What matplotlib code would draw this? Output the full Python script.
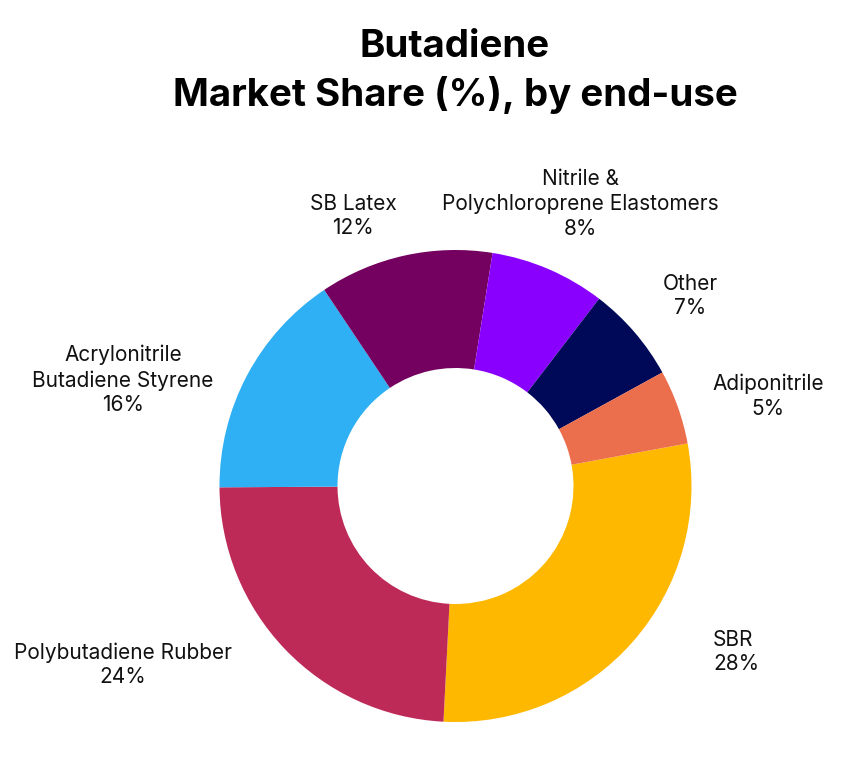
import matplotlib
matplotlib.use("Agg")
import matplotlib.pyplot as plt

categories = ["SBR", "Polybutadiene Rubber", "Acrylonitrile\nButadiene Styrene",
              "SB Latex", "Nitrile &\nPolychloroprene Elastomers", "Other", "Adiponitrile"]
# slice sizes
shares = [28.7, 24.1, 15.7, 11.9, 7.9, 6.6, 5.1]
# percentages as printed on the chart
share_labels = ["28%", "24%", "16%", "12%", "8%", "7%", "5%"]
colors = ["#FFB800", "#BE2A58", "#30B0F4", "#740060", "#8A00FF", "#000957", "#EB6E4D"]
# label positions (data units, radius = 1) and alignment
label_pos = [(1.091, -0.703, "left"), (-1.409, -0.758, "center"), (-1.409, 0.449, "center"),
             (-0.434, 1.144, "center"), (0.528, 1.195, "center"), (0.994, 0.805, "center"),
             (1.324, 0.381, "center")]

plt.rcParams['font.family'] = ['Inter', 'DejaVu Sans']

fig = plt.figure(figsize=(8.6, 7.61), dpi=100)
ax = fig.add_axes([0, 0, 1, 1])
ax.pie(shares, colors=colors, startangle=10.4, counterclock=False, radius=1,
       wedgeprops=dict(width=0.5, edgecolor="none"))
ax.set_xlim(-455.5 / 236, (860 - 455.5) / 236)
ax.set_ylim((486 - 761) / 236, 486 / 236)
ax.set_aspect("auto")
ax.axis("off")

for cat, lab, (x, y, ha) in zip(categories, share_labels, label_pos):
    ax.text(x, y, f"{cat}\n{lab}", ha=ha, va="center", fontsize=15,
            color="#111111", linespacing=1.29)

fig.text(455 / 860, 1 - 47 / 761, "Butadiene",
         ha="center", va="center", fontsize=27.7, fontweight="bold")
fig.text(455 / 860, 1 - 95 / 761, "Market Share (%), by end-use",
         ha="center", va="center", fontsize=27.7, fontweight="bold")

fig.savefig("out.png", dpi=100, facecolor="white")
